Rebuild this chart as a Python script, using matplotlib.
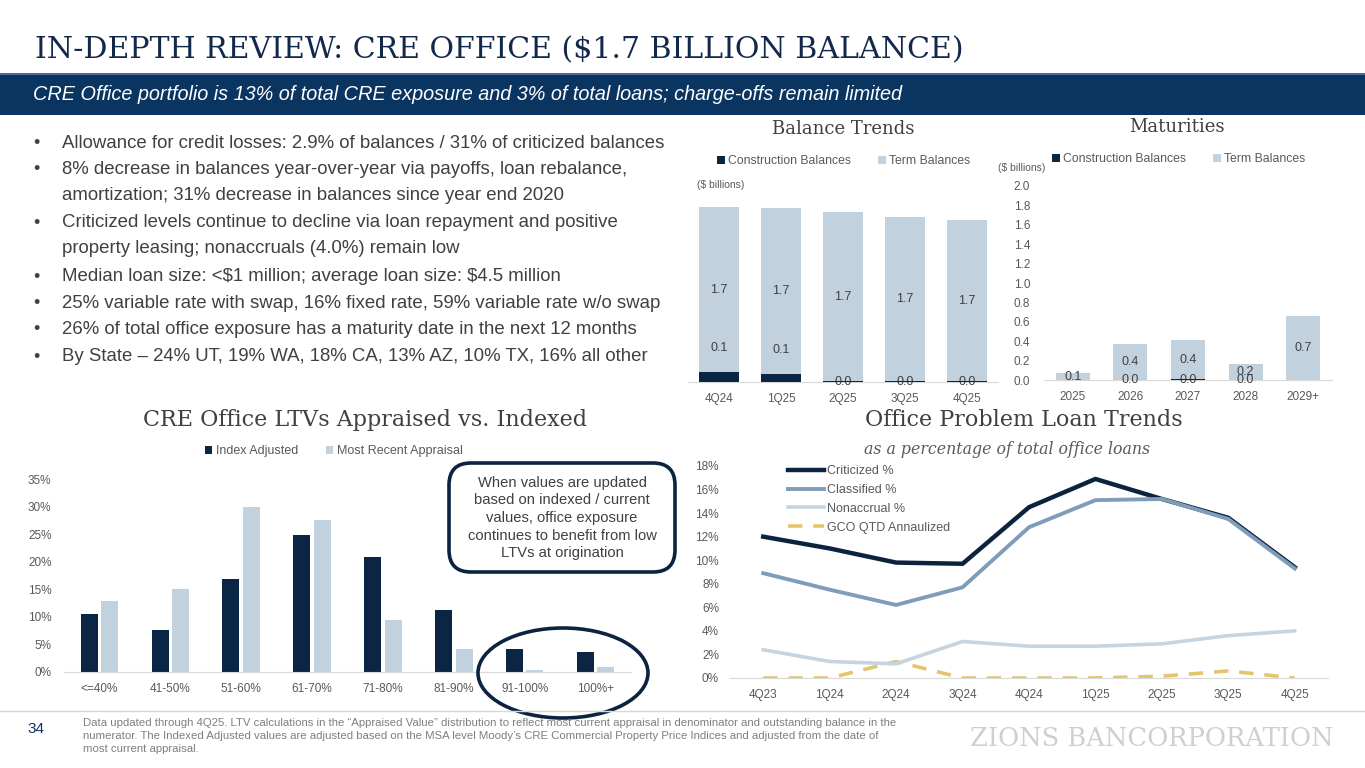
import matplotlib.pyplot as plt
from matplotlib.patches import Rectangle, FancyBboxPatch, Ellipse
from matplotlib.ticker import FuncFormatter

W, H = 1365, 768

# balance trends ($ billions)
bal_quarters = ['4Q24', '1Q25', '2Q25', '3Q25', '4Q25']
bal_construction = [0.10, 0.08, 0.01, 0.01, 0.01]
bal_term = [1.70, 1.71, 1.74, 1.69, 1.66]

# maturities ($ billions), None = no construction label shown
mat_years = ['2025', '2026', '2027', '2028', '2029+']
mat_construction = [None, 0.0, 0.01, 0.0, None]
mat_term = [0.07, 0.37, 0.40, 0.17, 0.66]

# LTV distribution (%)
ltv_buckets = ['<=40%', '41-50%', '51-60%', '61-70%', '71-80%', '81-90%', '91-100%', '100%+']
ltv_index = [10.5, 7.7, 16.8, 24.9, 20.9, 11.3, 4.2, 3.7]
ltv_appraisal = [12.8, 15.1, 29.9, 27.6, 9.4, 4.2, 0.3, 0.85]

# problem loan trends (%)
pl_quarters = ['4Q23', '1Q24', '2Q24', '3Q24', '4Q24', '1Q25', '2Q25', '3Q25', '4Q25']
criticized = [12.0, 11.0, 9.8, 9.7, 14.5, 16.9, 15.2, 13.6, 9.4]
classified = [8.9, 7.5, 6.2, 7.7, 12.8, 15.1, 15.2, 13.5, 9.3]
nonaccrual = [2.4, 1.4, 1.2, 3.1, 2.7, 2.7, 2.9, 3.6, 4.0]
gco = [0.0, 0.0, 1.4, 0.0, 0.0, 0.0, 0.15, 0.6, 0.0]

bullets = [
    'Allowance for credit losses: 2.9% of balances / 31% of criticized balances',
    '8% decrease in balances year-over-year via payoffs, loan rebalance,\namortization; 31% decrease in balances since year end 2020',
    'Criticized levels continue to decline via loan repayment and positive\nproperty leasing; nonaccruals (4.0%) remain low',
    'Median loan size: <$1 million; average loan size: $4.5 million',
    '25% variable rate with swap, 16% fixed rate, 59% variable rate w/o swap',
    '26% of total office exposure has a maturity date in the next 12 months',
    'By State \u2013 24% UT, 19% WA, 18% CA, 13% AZ, 10% TX, 16% all other',
]

NAVY = '#0b2545'
LIGHT = '#c2d1de'
BANNER = '#0b3561'
TXT = '#404040'
TICK = '#595959'
SANS = 'Liberation Sans'
SERIF = 'DejaVu Serif'

plt.rcParams['font.family'] = SANS

fig = plt.figure(figsize=(W / 100, H / 100), dpi=100)


def add_ax(x0, y0, x1, y1):
    return fig.add_axes([x0 / W, 1 - y1 / H, (x1 - x0) / W, (y1 - y0) / H])


def clean(ax):
    for s in ['top', 'right', 'left']:
        ax.spines[s].set_visible(False)
    ax.spines['bottom'].set_color('#d9d9d9')
    ax.tick_params(axis='both', length=0, labelsize=8.5, labelcolor=TICK)
    ax.set_facecolor('none')


def top_legend(ax, cx, cy, fs=8.8, **kw):
    ax.legend(loc='center', bbox_to_anchor=(cx / W, 1 - cy / H), bbox_transform=fig.transFigure,
              ncol=2, frameon=False, fontsize=fs, handlelength=0.6, handleheight=0.6,
              handletextpad=0.3, columnspacing=2.2, labelcolor=TICK, **kw)


# ---- Balance Trends ----
ax1 = add_ax(688, 188, 998, 382)
x = range(len(bal_quarters))
ax1.bar(x, bal_construction, 0.64, color=NAVY, label='Construction Balances', zorder=4)
ax1.bar(x, bal_term, 0.64, bottom=bal_construction, color=LIGHT, label='Term Balances', zorder=2)
for i in x:
    c, t = bal_construction[i], bal_term[i]
    ax1.text(i, c + t / 2, f'{t:.1f}', ha='center', va='center', fontsize=9, color=TXT, zorder=3)
    cy = c + 0.25 if c >= 0.05 else 0.0
    ax1.text(i, cy, f'{c:.1f}', ha='center', va='center', fontsize=9, color=TXT, zorder=3)
ax1.set_xlim(-0.5, len(bal_quarters) - 0.5)
ax1.set_ylim(0, 2.0)
ax1.set_yticks([])
ax1.set_xticks(list(x), bal_quarters)
clean(ax1)
ax1.tick_params(axis='x', pad=8)
top_legend(ax1, 844, 161)

# ---- Maturities ----
ax2 = add_ax(1044, 186, 1332, 380)
x = range(len(mat_years))
mc = [v if v is not None else 0 for v in mat_construction]
ax2.bar(x, mc, 0.59, color=NAVY, label='Construction Balances', zorder=4)
ax2.bar(x, mat_term, 0.59, bottom=mc, color=LIGHT, label='Term Balances', zorder=2)
for i in x:
    ax2.text(i, mc[i] + mat_term[i] / 2, f'{mat_term[i]:.1f}', ha='center', va='center',
             fontsize=9, color=TXT, zorder=3)
    if mat_construction[i] is not None:
        ax2.text(i, 0, f'{mat_construction[i]:.1f}', ha='center', va='center',
                 fontsize=9, color=TXT, zorder=3)
ax2.set_xlim(-0.5, len(mat_years) - 0.5)
ax2.set_ylim(0, 2.0)
ax2.set_yticks([i / 10 for i in range(0, 21, 2)])
ax2.yaxis.set_major_formatter(FuncFormatter(lambda v, p: f'{v:.1f}'))
ax2.set_xticks(list(x), mat_years)
clean(ax2)
ax2.tick_params(axis='x', pad=8)
ax2.tick_params(axis='y', pad=10)
top_legend(ax2, 1179, 159)

# ---- LTV distribution ----
ax3 = add_ax(64, 479, 631, 672)
x = list(range(len(ltv_buckets)))
ax3.bar([i - 0.145 for i in x], ltv_index, 0.24, color=NAVY, label='Index Adjusted')
ax3.bar([i + 0.145 for i in x], ltv_appraisal, 0.24, color=LIGHT, label='Most Recent Appraisal')
ax3.set_xlim(-0.5, len(ltv_buckets) - 0.5)
ax3.set_ylim(0, 35)
ax3.set_yticks(range(0, 36, 5))
ax3.yaxis.set_major_formatter(FuncFormatter(lambda v, p: f'{v:.0f}%'))
ax3.set_xticks(x, ltv_buckets)
clean(ax3)
ax3.tick_params(axis='x', pad=8)
ax3.tick_params(axis='y', pad=9)
top_legend(ax3, 334, 451, fs=9)

# ---- Problem loan trends ----
ax4 = add_ax(730, 466, 1328, 678)
x = list(range(len(pl_quarters)))
ax4.plot(x, criticized, color='#0c2340', lw=3.2, label='Criticized %', zorder=4)
ax4.plot(x, classified, color='#7f9cb8', lw=2.8, label='Classified %', zorder=5)
ax4.plot(x, nonaccrual, color='#c6d4e0', lw=2.6, label='Nonaccrual %', zorder=3)
ax4.plot(x, gco, color='#e5c56c', lw=2.6, ls=(0, (4, 3)), label='GCO QTD Annaulized', zorder=2)
ax4.set_xlim(-0.5, len(pl_quarters) - 0.5)
ax4.set_ylim(0, 18)
ax4.set_yticks(range(0, 19, 2))
ax4.yaxis.set_major_formatter(FuncFormatter(lambda v, p: f'{v:.0f}%'))
ax4.set_xticks(x, pl_quarters)
clean(ax4)
ax4.tick_params(axis='x', pad=8)
ax4.tick_params(axis='y', pad=8)
ax4.legend(loc='upper left', bbox_to_anchor=(788 / W, 1 - 465 / H), bbox_transform=fig.transFigure,
           frameon=False, fontsize=9, handlelength=2.9, handletextpad=0.2,
           labelspacing=0.55, labelcolor=TICK, borderaxespad=0, borderpad=0)

# ---- overlay in pixel coordinates ----
ov = fig.add_axes([0, 0, 1, 1], zorder=10)
ov.set_xlim(0, W)
ov.set_ylim(H, 0)
ov.axis('off')
ov.patch.set_alpha(0)

ov.text(35, 58, 'IN-DEPTH REVIEW: CRE OFFICE ($1.7 BILLION BALANCE)', family=SERIF,
        fontsize=21.6, color='#13294b', va='baseline', ha='left')

ov.add_patch(Rectangle((0, 74), W, 41, color=BANNER, lw=0))
ov.add_patch(Rectangle((0, 73), W, 1.5, color='#4a7298', lw=0))
ov.text(33, 95, 'CRE Office portfolio is 13% of total CRE exposure and 3% of total loans; '
        'charge-offs remain limited', color='white', fontsize=14.3, style='italic',
        va='center', ha='left')

by = [144, 170, 223, 277, 304, 330, 357]
for yy, b in zip(by, bullets):
    ov.text(33, yy, '\u2022', fontsize=13, color=TXT, va='center')
    ov.text(62, yy - 9, b, fontsize=13.4, color=TXT, va='top', linespacing=1.66,
            parse_math=False)

ov.text(843, 129, 'Balance Trends', family=SERIF, fontsize=13, color=TXT, ha='center', va='center')
ov.text(1177, 127, 'Maturities', family=SERIF, fontsize=13, color=TXT, ha='center', va='center')
ov.text(697, 185, '($ billions)', fontsize=7.5, color=TICK, ha='left', va='center')
ov.text(998, 168, '($ billions)', fontsize=7.5, color=TICK, ha='left', va='center')
ov.text(365, 420, 'CRE Office LTVs Appraised vs. Indexed', family=SERIF, fontsize=16,
        color=TXT, ha='center', va='center')
ov.text(1024, 420, 'Office Problem Loan Trends', family=SERIF, fontsize=16,
        color=TXT, ha='center', va='center')
ov.text(1007, 449, 'as a percentage of total office loans', family=SERIF, style='italic',
        fontsize=11.3, color='#595959', ha='center', va='center')

ov.add_patch(FancyBboxPatch((449, 463), 226, 109, boxstyle='round,pad=0,rounding_size=22',
                            fill=False, ec='#0c2340', lw=2.6))
ov.text(562, 518, 'When values are updated\nbased on indexed / current\nvalues, office exposure\n'
        'continues to benefit from low\nLTVs at origination', fontsize=10.6, color=TXT,
        ha='center', va='center', linespacing=1.33)
ov.add_patch(Ellipse((563, 673), 170, 90, fill=False, ec='#0c2340', lw=2.6))

ov.plot([0, W], [711, 711], color='#d9d9d9', lw=1)
ov.text(36, 729, '34', fontsize=11, color=BANNER, ha='center', va='center')
ov.text(83, 718, 'Data updated through 4Q25. LTV calculations in the \u201cAppraised Value\u201d distribution '
        'to reflect most current appraisal in denominator and outstanding balance in the\n'
        'numerator. The Indexed Adjusted values are adjusted based on the MSA level Moody\u2019s CRE '
        'Commercial Property Price Indices and adjusted from the date of\nmost current appraisal.',
        fontsize=8.2, color='#7f7f7f', ha='left', va='top', linespacing=1.35)
ov.text(1152, 738, 'ZIONS BANCORPORATION', family=SERIF, fontsize=18.5, color='#cfcfcf',
        ha='center', va='center')

fig.savefig('out.png', dpi=100)
